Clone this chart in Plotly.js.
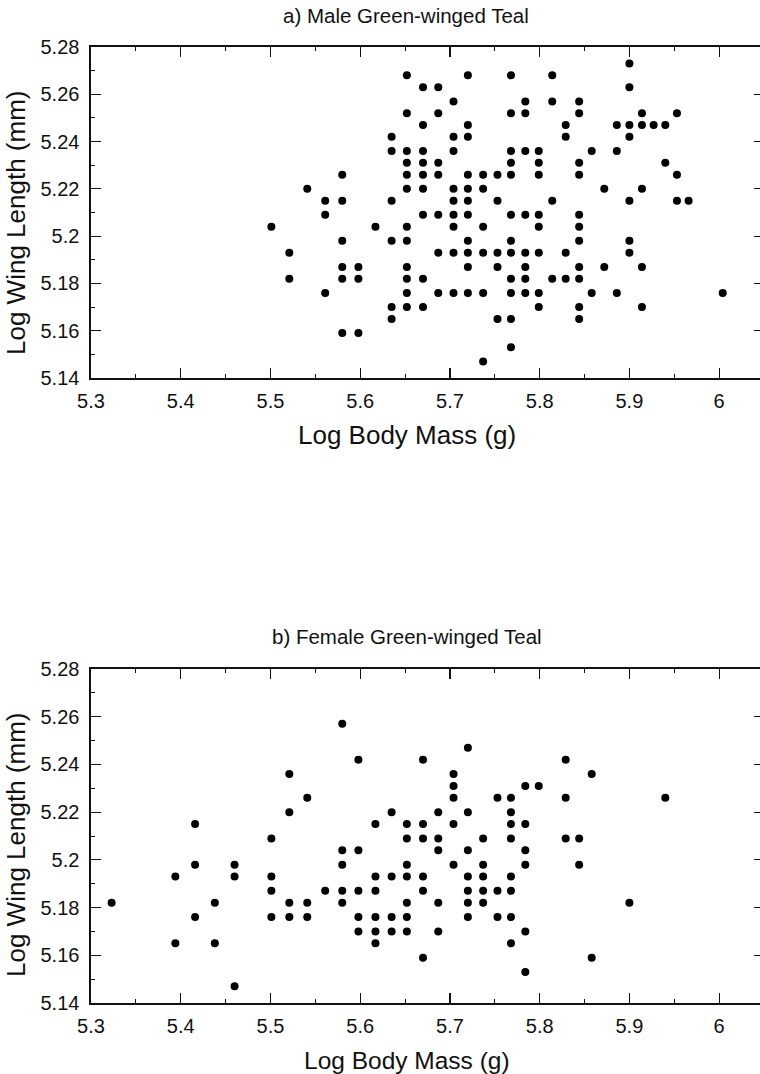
<!DOCTYPE html>
<html>
<head>
<meta charset="utf-8">
<script src="https://cdn.plot.ly/plotly-3.0.1.min.js"></script>
<style>
html, body { margin: 0; padding: 0; overflow: hidden; background: #fff; }
#chart { width: 775px; height: 1074px; }
</style>
</head>
<body>
<div id="chart"></div>
<script>
// ---- Data (log body mass, log wing length) ----
const maleMass = [
  5.900,
  5.652, 5.720, 5.768, 5.814,
  5.670, 5.687, 5.900,
  5.704, 5.784, 5.814, 5.844,
  5.652, 5.687, 5.768, 5.784, 5.844, 5.914, 5.953,
  5.670, 5.720, 5.829, 5.886, 5.900, 5.914, 5.927, 5.940,
  5.635, 5.704, 5.720, 5.829, 5.900,
  5.635, 5.652, 5.670, 5.704, 5.768, 5.784, 5.799, 5.858, 5.886,
  5.652, 5.670, 5.687, 5.768, 5.799, 5.844, 5.940,
  5.580, 5.652, 5.670, 5.687, 5.720, 5.737, 5.753, 5.768, 5.799, 5.844, 5.953,
  5.541, 5.652, 5.670, 5.704, 5.720, 5.737, 5.872, 5.914,
  5.561, 5.580, 5.635, 5.704, 5.720, 5.753, 5.814, 5.900, 5.953, 5.966,
  5.561, 5.670, 5.687, 5.704, 5.720, 5.768, 5.784, 5.799, 5.844,
  5.501, 5.617, 5.652, 5.704, 5.737, 5.799, 5.844,
  5.580, 5.635, 5.652, 5.720, 5.768, 5.844, 5.900,
  5.521, 5.687, 5.704, 5.720, 5.737, 5.753, 5.768, 5.784, 5.799, 5.829, 5.900,
  5.580, 5.598, 5.652, 5.720, 5.753, 5.784, 5.844, 5.872, 5.914,
  5.521, 5.580, 5.598, 5.652, 5.670, 5.768, 5.784, 5.814, 5.829, 5.844,
  5.561, 5.652, 5.687, 5.704, 5.720, 5.737, 5.768, 5.784, 5.799, 5.858, 5.886, 6.004,
  5.635, 5.652, 5.670, 5.799, 5.844, 5.914,
  5.635, 5.753, 5.768, 5.844,
  5.580, 5.598,
  5.768,
  5.737
];
const maleWing = [
  5.273,
  5.268, 5.268, 5.268, 5.268,
  5.263, 5.263, 5.263,
  5.257, 5.257, 5.257, 5.257,
  5.252, 5.252, 5.252, 5.252, 5.252, 5.252, 5.252,
  5.247, 5.247, 5.247, 5.247, 5.247, 5.247, 5.247, 5.247,
  5.242, 5.242, 5.242, 5.242, 5.242,
  5.236, 5.236, 5.236, 5.236, 5.236, 5.236, 5.236, 5.236, 5.236,
  5.231, 5.231, 5.231, 5.231, 5.231, 5.231, 5.231,
  5.226, 5.226, 5.226, 5.226, 5.226, 5.226, 5.226, 5.226, 5.226, 5.226, 5.226,
  5.220, 5.220, 5.220, 5.220, 5.220, 5.220, 5.220, 5.220,
  5.215, 5.215, 5.215, 5.215, 5.215, 5.215, 5.215, 5.215, 5.215, 5.215,
  5.209, 5.209, 5.209, 5.209, 5.209, 5.209, 5.209, 5.209, 5.209,
  5.204, 5.204, 5.204, 5.204, 5.204, 5.204, 5.204,
  5.198, 5.198, 5.198, 5.198, 5.198, 5.198, 5.198,
  5.193, 5.193, 5.193, 5.193, 5.193, 5.193, 5.193, 5.193, 5.193, 5.193, 5.193,
  5.187, 5.187, 5.187, 5.187, 5.187, 5.187, 5.187, 5.187, 5.187,
  5.182, 5.182, 5.182, 5.182, 5.182, 5.182, 5.182, 5.182, 5.182, 5.182,
  5.176, 5.176, 5.176, 5.176, 5.176, 5.176, 5.176, 5.176, 5.176, 5.176, 5.176, 5.176,
  5.170, 5.170, 5.170, 5.170, 5.170, 5.170,
  5.165, 5.165, 5.165, 5.165,
  5.159, 5.159,
  5.153,
  5.147
];

const femaleMass = [
  5.580,
  5.720,
  5.598, 5.670, 5.829,
  5.521, 5.704, 5.858,
  5.704, 5.784, 5.799,
  5.541, 5.704, 5.753, 5.768, 5.829, 5.940,
  5.521, 5.635, 5.687, 5.720, 5.768,
  5.416, 5.617, 5.652, 5.670, 5.704, 5.768, 5.784,
  5.501, 5.652, 5.670, 5.687, 5.737, 5.768, 5.829, 5.844,
  5.580, 5.598, 5.687, 5.720, 5.784,
  5.416, 5.460, 5.580, 5.652, 5.704, 5.737, 5.784, 5.844,
  5.394, 5.460, 5.501, 5.617, 5.635, 5.652, 5.670, 5.720, 5.737, 5.768,
  5.501, 5.561, 5.580, 5.598, 5.617, 5.670, 5.720, 5.737, 5.753, 5.768,
  5.323, 5.438, 5.521, 5.541, 5.580, 5.652, 5.687, 5.720, 5.737, 5.900,
  5.416, 5.501, 5.521, 5.541, 5.598, 5.617, 5.635, 5.652, 5.720, 5.753, 5.768,
  5.598, 5.617, 5.635, 5.652, 5.687, 5.784,
  5.394, 5.438, 5.617, 5.768,
  5.670, 5.858,
  5.784,
  5.460
];
const femaleWing = [
  5.257,
  5.247,
  5.242, 5.242, 5.242,
  5.236, 5.236, 5.236,
  5.231, 5.231, 5.231,
  5.226, 5.226, 5.226, 5.226, 5.226, 5.226,
  5.220, 5.220, 5.220, 5.220, 5.220,
  5.215, 5.215, 5.215, 5.215, 5.215, 5.215, 5.215,
  5.209, 5.209, 5.209, 5.209, 5.209, 5.209, 5.209, 5.209,
  5.204, 5.204, 5.204, 5.204, 5.204,
  5.198, 5.198, 5.198, 5.198, 5.198, 5.198, 5.198, 5.198,
  5.193, 5.193, 5.193, 5.193, 5.193, 5.193, 5.193, 5.193, 5.193, 5.193,
  5.187, 5.187, 5.187, 5.187, 5.187, 5.187, 5.187, 5.187, 5.187, 5.187,
  5.182, 5.182, 5.182, 5.182, 5.182, 5.182, 5.182, 5.182, 5.182, 5.182,
  5.176, 5.176, 5.176, 5.176, 5.176, 5.176, 5.176, 5.176, 5.176, 5.176, 5.176,
  5.170, 5.170, 5.170, 5.170, 5.170, 5.170,
  5.165, 5.165, 5.165, 5.165,
  5.159, 5.159,
  5.153,
  5.147
];

const panelTitles = ['a) Male Green-winged Teal', 'b) Female Green-winged Teal'];
const xTitle = 'Log Body Mass (g)';
const yTitle = 'Log Wing Length (mm)';

// ---- Styling ----
const font = '"Liberation Sans", Arial, Helvetica, sans-serif';
const ink = '#111';
const H = 1074, L = 91, PW = 673;           // page height, plot left, plot width (px)
const px2x = p => (p - L) / PW;              // page px -> paper x
const px2y = p => 1 - p / H;                 // page px -> paper y

const marker = { color: '#000', size: 8, symbol: 'circle', line: { width: 0 } };

function xAxis(anchor) {
  return {
    anchor: anchor,
    range: [5.3, 6.05],
    tick0: 5.3, dtick: 0.1,
    ticks: 'inside', ticklen: 10, tickwidth: 1.2, tickcolor: ink,
    minor: { ticks: 'inside', ticklen: 4, tickwidth: 1, tickcolor: ink, dtick: 0.05, tick0: 5.3 },
    showline: true, linecolor: ink, linewidth: 1.6, mirror: 'ticks',
    showgrid: false, zeroline: false,
    tickfont: { family: font, size: 20, color: ink },
    ticklabelstandoff: 4
  };
}
function yAxis(anchor, domain) {
  return {
    anchor: anchor,
    domain: domain,
    range: [5.14, 5.28],
    tick0: 5.14, dtick: 0.02,
    ticks: 'inside', ticklen: 10, tickwidth: 1.2, tickcolor: ink,
    minor: { ticks: 'inside', ticklen: 4, tickwidth: 1, tickcolor: ink, dtick: 0.01, tick0: 5.14 },
    showline: true, linecolor: ink, linewidth: 1.6, mirror: 'ticks',
    showgrid: false, zeroline: false,
    tickfont: { family: font, size: 20, color: ink },
    ticklabelstandoff: 6
  };
}

function note(text, xp, yp, size, angle) {
  return {
    text: text, xref: 'paper', yref: 'paper', x: px2x(xp), y: px2y(yp),
    xanchor: 'center', yanchor: 'middle', showarrow: false, textangle: angle || 0,
    font: { family: font, size: size, color: ink }
  };
}

const traces = [
  { type: 'scatter', mode: 'markers', x: maleMass, y: maleWing, xaxis: 'x', yaxis: 'y', marker: marker, name: 'Male', cliponaxis: false },
  { type: 'scatter', mode: 'markers', x: femaleMass, y: femaleWing, xaxis: 'x2', yaxis: 'y2', marker: marker, name: 'Female', cliponaxis: false }
];

const layout = {
  width: 775, height: H,
  margin: { l: L, r: 775 - L - PW, t: 0, b: 0 },
  paper_bgcolor: '#fff', plot_bgcolor: '#fff',
  showlegend: false,
  xaxis: xAxis('y'),
  yaxis: yAxis('x', [px2y(378), px2y(47)]),
  xaxis2: xAxis('y2'),
  yaxis2: yAxis('x2', [px2y(1003), px2y(669)]),
  annotations: [
    note(panelTitles[0], 406, 15, 20.5),
    note(panelTitles[1], 407, 636, 20.5),
    note(xTitle, 407, 435, 26),
    note(xTitle, 407, 1060, 24.5),
    note(yTitle, 16, 223, 26, -90),
    note(yTitle, 16, 845, 26, -90)
  ]
};

Plotly.newPlot('chart', traces, layout, { displayModeBar: false, staticPlot: true });
</script>
</body>
</html>
